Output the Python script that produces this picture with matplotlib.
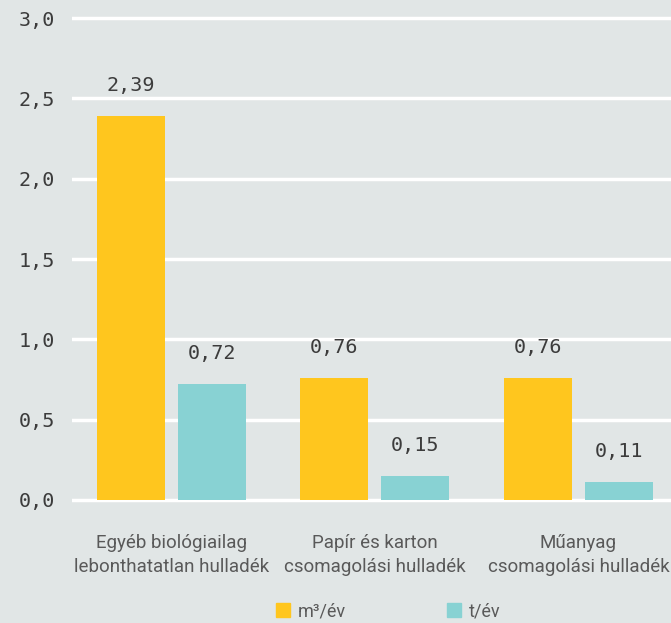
import matplotlib.pyplot as plt
import numpy as np
from matplotlib.patches import Patch

categories = ["Egyéb biológiailag\nlebonthatatlan hulladék",
              "Papír és karton\ncsomagolási hulladék",
              "Műanyag\ncsomagolási hulladék"]
volume = [2.39, 0.76, 0.76]   # m³/év
mass = [0.72, 0.15, 0.11]     # t/év
series_names = ["m³/év", "t/év"]
yticks = [0.0, 0.5, 1.0, 1.5, 2.0, 2.5, 3.0]

bg = "#E1E6E6"
yellow = "#FFC61E"
teal = "#88D2D3"
txt = "#3C3C3C"
label_col = "#595959"

fig = plt.figure(figsize=(6.71, 6.23), dpi=100, facecolor=bg)
ax = fig.add_axes([72 / 671, 1 - 503.2 / 623, 1 - 72 / 671, (503.2 - 14.8) / 623])
ax.set_facecolor(bg)

x = np.arange(len(categories))
w = 0.334
off = 0.199
b1 = ax.bar(x - off, volume, w, color=yellow, zorder=3)
b2 = ax.bar(x + off, mass, w, color=teal, zorder=3)

mono = "DejaVu Sans Mono"
for bars, vals in ((b1, volume), (b2, mass)):
    for r, v in zip(bars, vals):
        ax.annotate(f"{v:.2f}".replace(".", ","),
                    (r.get_x() + r.get_width() / 2, v),
                    xytext=(0, 15), textcoords="offset points",
                    ha="center", va="bottom", fontsize=14.5,
                    family=mono, color=txt)

ax.set_xlim(-0.489, 2.455)
ax.set_ylim(-0.02, 3.02)
ax.set_yticks(yticks)
ax.set_yticklabels([f"{t:.1f}".replace(".", ",") for t in yticks],
                   family=mono, fontsize=14.5, color=txt)
ax.tick_params(axis="y", length=0, pad=12)
ax.tick_params(axis="x", length=0, pad=0)
ax.set_xticks([])
ax.yaxis.grid(True, color="white", linewidth=2.5, zorder=0)
for s in ax.spines.values():
    s.set_visible(False)

for xi, c in zip(x, categories):
    ax.text(xi, -0.345, c, ha="center", va="center", fontsize=13.5,
            family="Roboto", color=label_col,
            linespacing=1.42, transform=ax.transData)

handles = [Patch(color=yellow), Patch(color=teal)]
leg = fig.legend(handles, series_names, loc="center", ncol=2,
                 bbox_to_anchor=(388 / 671, 1 - 611 / 623),
                 frameon=False, handlelength=0.8, handleheight=0.8,
                 handletextpad=0.4, columnspacing=5.6,
                 prop={"family": "Roboto", "size": 13})
for t in leg.get_texts():
    t.set_color(label_col)

fig.savefig("out.png", dpi=100, facecolor=bg)
